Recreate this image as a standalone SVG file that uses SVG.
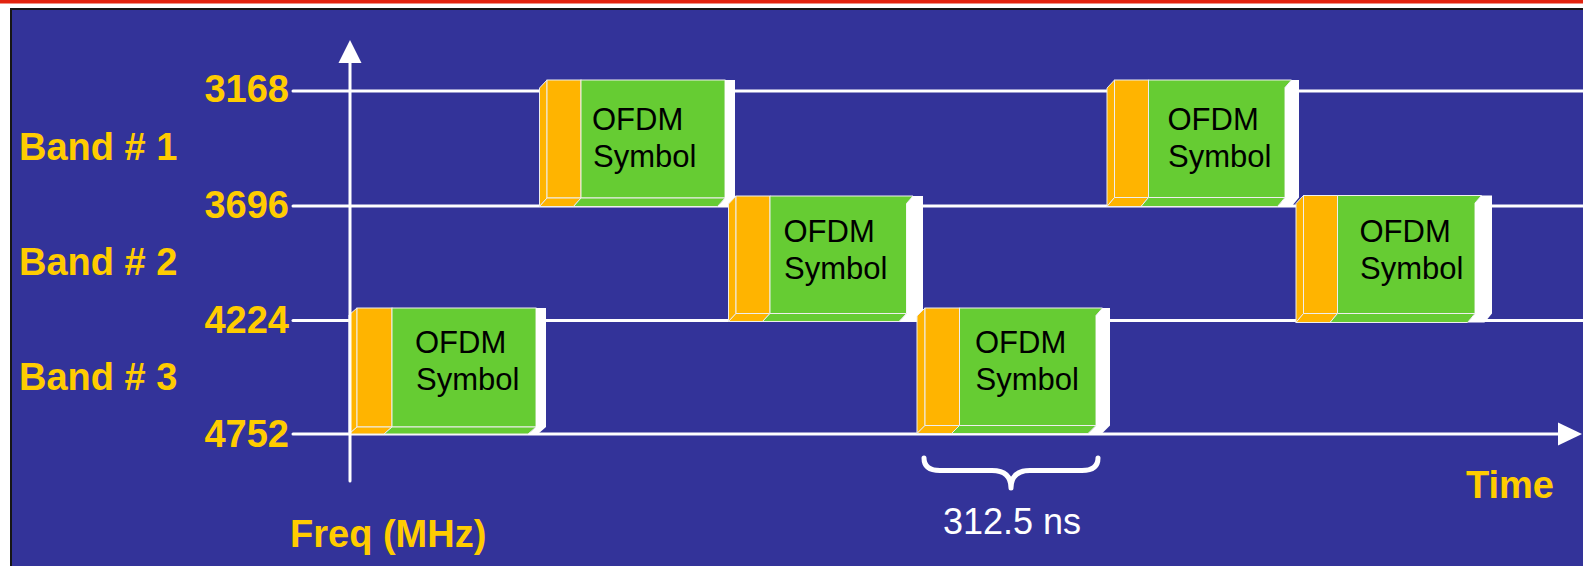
<svg xmlns="http://www.w3.org/2000/svg" width="1583" height="566" viewBox="0 0 1583 566">
<style>
.yl{font-family:"Liberation Sans",Arial,sans-serif;font-weight:bold;font-size:38px;fill:#FFCC00}
.sym{font-family:"Liberation Sans",Arial,sans-serif;font-size:31px;fill:#000}
.ns{font-family:"Liberation Sans",Arial,sans-serif;font-size:36px;fill:#fff}
.ax{stroke:#fff;stroke-width:3;fill:none;stroke-linecap:round}
.or{fill:#FFB400;stroke:#eeeeee;stroke-width:1}
.gr{fill:#66CC33;stroke:#eeeeee;stroke-width:1}
.wh{fill:#fff;stroke:none}
</style>
<rect x="0" y="0" width="1583" height="566" fill="#fff"/>
<rect x="0" y="0" width="1583" height="3.5" fill="#E2230F"/>
<rect x="11" y="9" width="1580" height="570" fill="#333399" stroke="#161616" stroke-width="2"/>

<g id="connectors">
<line class="ax" x1="293" y1="91" x2="1590" y2="91"/>
<line class="ax" x1="293" y1="206" x2="1590" y2="206"/>
<line class="ax" x1="293" y1="320.5" x2="1590" y2="320.5"/>
<line class="ax" x1="293" y1="434" x2="1562" y2="434"/>
<polygon points="1582,434 1558,422.5 1558,445.5" fill="#fff"/>
</g>

<g id="block1">
<polygon class="or" points="357,308 357,427 349,434 349,315"/>
<rect class="or" x="357" y="308" width="35" height="119"/>
<rect class="gr" x="392" y="308" width="144" height="119"/>
<polygon class="wh" points="536,308 546,308 546,427 538,434 528,434 536,427"/>
<polygon class="or" points="357,427 392,427 384,434 349,434"/>
<polygon class="gr" points="392,427 536,427 528,434 384,434"/>
<text class="sym" x="415" y="353">OFDM</text>
<text class="sym" x="416" y="390">Symbol</text>
</g>

<g id="block2">
<polygon class="or" points="547,80 547,198 539.5,206.5 539.5,88"/>
<rect class="or" x="547" y="80" width="34" height="118"/>
<rect class="gr" x="581" y="80" width="144" height="118"/>
<polygon class="wh" points="725,80 735,80 735,198 727.5,206.5 717.5,206.5 725,198"/>
<polygon class="or" points="547,198 581,198 573.5,206.5 539.5,206.5"/>
<polygon class="gr" points="581,198 725,198 717.5,206.5 573.5,206.5"/>
<text class="sym" x="592" y="130">OFDM</text>
<text class="sym" x="593" y="166.5">Symbol</text>
</g>

<g id="block3">
<polygon class="or" points="736,196 736,313.5 728.5,321.5 728.5,204"/>
<rect class="or" x="736" y="196" width="34" height="117.5"/>
<polygon class="gr" points="770,196 913,196 906.5,203.5 906.5,313.5 770,313.5"/>
<polygon class="wh" points="906.5,203.5 913,196 923,196 923,313.5 915.5,321.5 899,321.5 906.5,313.5"/>
<polygon class="or" points="736,313.5 770,313.5 762.5,321.5 728.5,321.5"/>
<polygon class="gr" points="770,313.5 906.5,313.5 899,321.5 762.5,321.5"/>
<text class="sym" x="783.5" y="241.5">OFDM</text>
<text class="sym" x="784" y="279">Symbol</text>
</g>

<g id="block4">
<polygon class="or" points="925,308 925,425.5 917,433.5 917,316"/>
<rect class="or" x="925" y="308" width="34.5" height="117.5"/>
<polygon class="gr" points="959.5,308 1102.5,308 1096,315.5 1096,425.5 959.5,425.5"/>
<polygon class="wh" points="1096,315.5 1102.5,308 1110,308 1110,425.5 1102,433.5 1088,433.5 1096,425.5"/>
<polygon class="or" points="925,425.5 959.5,425.5 951.5,433.5 917,433.5"/>
<polygon class="gr" points="959.5,425.5 1096,425.5 1088,433.5 951.5,433.5"/>
<text class="sym" x="975" y="353">OFDM</text>
<text class="sym" x="975.5" y="390">Symbol</text>
</g>

<g id="block5">
<polygon class="or" points="1114.5,80 1114.5,197.5 1107,206.5 1107,88"/>
<rect class="or" x="1114.5" y="80" width="34" height="117.5"/>
<polygon class="gr" points="1148.5,80 1291.5,80 1285,87.5 1285,197.5 1148.5,197.5"/>
<polygon class="wh" points="1285,87.5 1291.5,80 1299,80 1299,197.5 1291.5,206.5 1277.5,206.5 1285,197.5"/>
<polygon class="or" points="1114.5,197.5 1148.5,197.5 1141,206.5 1107,206.5"/>
<polygon class="gr" points="1148.5,197.5 1285,197.5 1277.5,206.5 1141,206.5"/>
<text class="sym" x="1167.5" y="130">OFDM</text>
<text class="sym" x="1168" y="166.5">Symbol</text>
</g>

<g id="block6">
<polygon class="or" points="1303.5,195.5 1303.5,313.5 1296,322.5 1296,203.5"/>
<rect class="or" x="1303.5" y="195.5" width="34" height="118"/>
<polygon class="gr" points="1337.5,195.5 1481.5,195.5 1475,203 1475,313.5 1337.5,313.5"/>
<polygon class="wh" points="1475,203 1481.5,195.5 1492,195.5 1492,313.5 1484.5,322.5 1467.5,322.5 1475,313.5"/>
<polygon class="or" points="1303.5,313.5 1337.5,313.5 1330,322.5 1296,322.5"/>
<polygon class="gr" points="1337.5,313.5 1475,313.5 1467.5,322.5 1330,322.5"/>
<text class="sym" x="1359.5" y="242">OFDM</text>
<text class="sym" x="1360" y="279">Symbol</text>
</g>

<g id="freq-axis">
<line class="ax" x1="350" y1="60" x2="350" y2="481"/>
<polygon points="350,40 338.5,63 361.5,63" fill="#fff"/>
</g>

<g id="labels">
<text class="yl" x="289" y="102" text-anchor="end">3168</text>
<text class="yl" x="289" y="218" text-anchor="end">3696</text>
<text class="yl" x="289" y="333" text-anchor="end">4224</text>
<text class="yl" x="289" y="447" text-anchor="end">4752</text>
<text class="yl" x="19" y="160">Band # 1</text>
<text class="yl" x="19" y="275">Band # 2</text>
<text class="yl" x="19" y="390">Band # 3</text>
<text class="yl" x="290" y="547">Freq (MHz)</text>
<text class="yl" x="1466" y="498">Time</text>
</g>

<g id="duration">
<path d="M924,458 Q924,470.5 940,470.5 L992,470.5 Q1011,470.5 1011,488 Q1011,470.5 1030,470.5 L1082,470.5 Q1098,470.5 1098,458" fill="none" stroke="#fff" stroke-width="5" stroke-linecap="round" stroke-linejoin="round"/>
<text class="ns" x="943" y="534">312.5 ns</text>
</g>
</svg>
